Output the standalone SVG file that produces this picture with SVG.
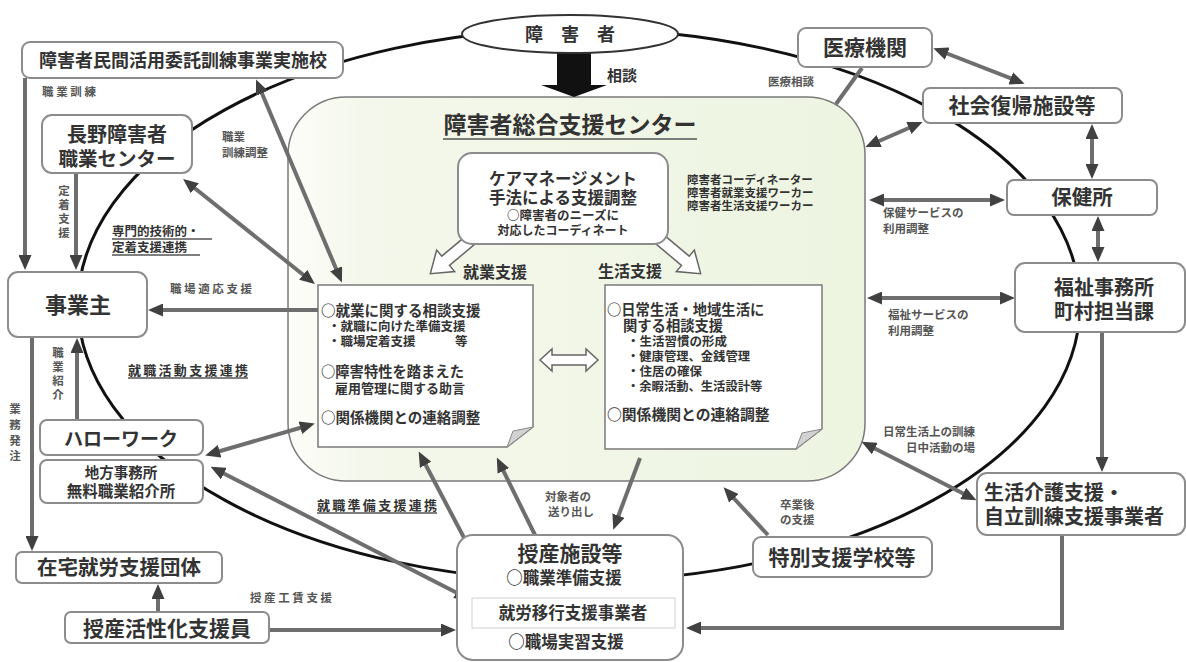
<svg xmlns="http://www.w3.org/2000/svg" width="1186" height="662" viewBox="0 0 1186 662">
<defs>
<style>
text{font-family:"Noto Sans CJK JP","Noto Sans CJK SC",sans-serif;font-weight:700;fill:#333}
.m{text-anchor:middle}
.box{fill:#fff;stroke:#8c8c8c;stroke-width:2}
.s{font-size:11.5px;fill:#555}
.c{fill:none;stroke:#6e6e6e;stroke-width:4}
.e{marker-end:url(#ah)}
.b{marker-start:url(#ah);marker-end:url(#ah)}
.ul{stroke:#555;stroke-width:1.3}
.doc{fill:#fff;stroke:#7a7a7a;stroke-width:1.5}
.fold{fill:#d2d2d2;stroke:#888;stroke-width:1}
.hol{fill:#fff;stroke:#666;stroke-width:1.5}
</style>
<marker id="ah" markerUnits="userSpaceOnUse" markerWidth="15" markerHeight="13" refX="10" refY="6.5" orient="auto-start-reverse" viewBox="0 0 15 13"><path d="M0,0 L15,6.5 L0,13 Z" fill="#404040"/></marker>
<linearGradient id="gf" x1="0" y1="0" x2="1" y2="0"><stop offset="0" stop-color="#fdfdf9"/><stop offset="0.12" stop-color="#f4f8ec"/><stop offset="1" stop-color="#edf4e0"/></linearGradient>
</defs>
<rect width="1186" height="662" fill="#fff"/>
<ellipse id="ring" cx="579" cy="305" rx="501" ry="276" fill="none" stroke="#111" stroke-width="3"/>

<g id="center">
<rect x="288" y="97" width="577" height="384" rx="58" fill="url(#gf)" stroke="#7a7a7a" stroke-width="1.5"/>
<text class="m" x="570" y="133" font-size="23">障害者総合支援センター</text>
<line class="ul" x1="443" y1="139" x2="697" y2="139" stroke-width="1.6"/>
<polygon class="hol" points="0,-6 37,-6 37,-14 57,0 37,14 37,6 0,6" transform="translate(474,237) rotate(140)"/>
<polygon class="hol" points="0,-6 37,-6 37,-14 57,0 37,14 37,6 0,6" transform="translate(657,237) rotate(40)"/>
<g id="caremgmt">
<rect x="458" y="153" width="210" height="91" rx="14" fill="#fff" stroke="#8c8c8c" stroke-width="2"/>
<text class="m" x="563" y="185" font-size="16.5">ケアマネージメント</text>
<text class="m" x="563" y="204" font-size="16.5">手法による支援調整</text>
<text class="m" x="563" y="220" font-size="12.5">○障害者のニーズに</text>
<text class="m" x="563" y="235" font-size="12">対応したコーディネート</text>
</g>
<text x="687" y="184" font-size="11.5">障害者コーディネーター</text>
<text x="687" y="197" font-size="11.5">障害者就業支援ワーカー</text>
<text x="687" y="210" font-size="11.5">障害者生活支援ワーカー</text>
<text x="463" y="278" font-size="16">就業支援</text>
<text x="598" y="277" font-size="16">生活支援</text>
<g id="doc-shugyo">
<path class="doc" d="M318,285 H533 V427 L507,447 H318 Z"/>
<path class="fold" d="M533,427 L507,447 L513,431 Z"/>
<text x="321" y="316" font-size="14.5">○就業に関する相談支援</text>
<text x="328" y="331" font-size="12.5">・就職に向けた準備支援</text>
<text x="328" y="346" font-size="12.5">・職場定着支援</text>
<text x="455" y="346" font-size="12.5">等</text>
<text x="321" y="377" font-size="14.3">○障害特性を踏まえた</text>
<text x="335" y="393" font-size="13">雇用管理に関する助言</text>
<text x="321" y="423" font-size="14.5">○関係機関との連絡調整</text>
</g>
<polygon class="hol" points="540,360 552,349 552,355 586,355 586,349 598,360 586,371 586,365 552,365 552,371"/>
<g id="doc-seikatsu">
<path class="doc" d="M605,285 H822 V429 L796,449 H605 Z"/>
<path class="fold" d="M822,429 L796,449 L802,433 Z"/>
<text x="607" y="315" font-size="14.3">○日常生活・地域生活に</text>
<text x="623" y="331" font-size="14.3">関する相談支援</text>
<text x="627" y="345.5" font-size="12.5">・生活習慣の形成</text>
<text x="627" y="360.5" font-size="12.3">・健康管理、金銭管理</text>
<text x="627" y="375.5" font-size="12.5">・住居の確保</text>
<text x="627" y="390.5" font-size="12.3">・余暇活動、生活設計等</text>
<text x="607" y="420" font-size="14.8">○関係機関との連絡調整</text>
</g>
</g>

<g id="connectors">
<polygon points="557,53 591,53 591,85 607,85 574,97 541,85 557,85" fill="#111"/>
<path class="c e" d="M25,78 V265"/>
<path class="c e" d="M76,173 V265"/>
<path class="c e" d="M77,420 V343"/>
<path class="c e" d="M32,337 V546"/>
<path class="c e" d="M158,612 V589"/>
<path class="c e" d="M269,630 H451"/>
<path class="c b" d="M187,182 L311,281"/>
<path class="c b" d="M258,84 L340,278"/>
<path class="c e" d="M318,310 H153"/>
<path class="c b" d="M210,454 L310,425"/>
<path class="c b" d="M215,469 L465,597"/>
<path class="c b" d="M421,456 L491,589"/>
<path class="c e" d="M535,535 L499,462"/>
<path class="c e" d="M640,458 L615,525"/>
<path class="c e" d="M768,535 L727,491"/>
<path class="c b" d="M866,444 L972,498"/>
<path class="c e" d="M1102,332 V467"/>
<path class="c e" d="M1062,535 V628 H691"/>
<path class="c b" d="M872,298 H1010"/>
<path class="c b" d="M874,200 H1000"/>
<path class="c b" d="M1092,129 V174"/>
<path class="c b" d="M1098,221 V257"/>
<path class="c b" d="M938,50 L1020,82"/>
<path class="c b" d="M918,124 L870,145"/>
<path class="c" d="M862,68 L836,104"/>
</g>

<g id="labels">
<text x="607" y="81" font-size="15" fill="#444">相談</text>
<text class="s" x="768" y="86" font-size="10.5">医療相談</text>
<text class="s" x="42" y="96" textLength="54">職業訓練</text>
<text class="s" x="222" y="141" font-size="11.5">職業</text>
<text class="s" x="222" y="157" font-size="11.5">訓練調整</text>
<text class="s m" font-size="11.5"><tspan x="64" y="195">定</tspan><tspan x="64" y="209">着</tspan><tspan x="64" y="223">支</tspan><tspan x="64" y="237">援</tspan></text>
<text x="112" y="236" font-size="12.5" fill="#444">専門的技術的・</text>
<line class="ul" x1="112" y1="239" x2="212" y2="239"/>
<text x="112" y="252" font-size="12.5" fill="#444">定着支援連携</text>
<line class="ul" x1="112" y1="255" x2="200" y2="255"/>
<text class="s" x="170" y="293" font-size="12.5" textLength="82">職場適応支援</text>
<text class="s m" font-size="11.5"><tspan x="58" y="357">職</tspan><tspan x="58" y="371">業</tspan><tspan x="58" y="385">紹</tspan><tspan x="58" y="399">介</tspan></text>
<text x="128" y="375" font-size="13" fill="#444" textLength="120">就職活動支援連携</text>
<line class="ul" x1="128" y1="378" x2="248" y2="378"/>
<text class="s m" font-size="11.5"><tspan x="15" y="413">業</tspan><tspan x="15" y="429">務</tspan><tspan x="15" y="445">発</tspan><tspan x="15" y="460">注</tspan></text>
<text x="317" y="510" font-size="13" fill="#444" textLength="120">就職準備支援連携</text>
<line class="ul" x1="317" y1="513" x2="437" y2="513"/>
<text class="s" x="250" y="602" font-size="12" textLength="82">授産工賃支援</text>
<text class="s" x="545" y="501" font-size="12">対象者の</text>
<text class="s" x="548" y="516" font-size="12">送り出し</text>
<text class="s" x="780" y="509" font-size="11.5">卒業後</text>
<text class="s" x="780" y="524" font-size="11.5">の支援</text>
<text class="s" x="975" y="436" font-size="12.5" text-anchor="end">日常生活上の訓練</text>
<text class="s" x="975" y="452" font-size="12.5" text-anchor="end">日中活動の場</text>
<text class="s" x="888" y="319" font-size="12">福祉サービスの</text>
<text class="s" x="888" y="335" font-size="12">利用調整</text>
<text class="s" x="883" y="217" font-size="12">保健サービスの</text>
<text class="s" x="883" y="233" font-size="12">利用調整</text>
</g>

<g id="n-shogaisha">
<ellipse cx="570" cy="34" rx="108" ry="19" fill="#fff" stroke="#333" stroke-width="2"/>
<text class="m" x="570" y="41" font-size="18">障　害　者</text>
</g>
<g id="n-minkan">
<rect class="box" x="22" y="42" width="321" height="36" rx="8"/>
<text class="m" x="183" y="67" font-size="18">障害者民間活用委託訓練事業実施校</text>
</g>
<g id="n-nagano">
<rect class="box" x="42" y="115" width="150" height="58" rx="10"/>
<text class="m" x="117" y="142" font-size="20">長野障害者</text>
<text class="m" x="117" y="166" font-size="19.5">職業センター</text>
</g>
<g id="n-jigyonushi">
<rect class="box" x="8" y="272" width="139" height="65" rx="10"/>
<text class="m" x="78" y="313" font-size="22">事業主</text>
</g>
<g id="n-hellowork">
<rect class="box" x="40" y="420" width="163" height="35" rx="7"/>
<text class="m" x="121" y="446" font-size="19">ハローワーク</text>
</g>
<g id="n-chiho">
<rect class="box" x="40" y="460" width="163" height="43" rx="7"/>
<text class="m" x="121" y="478" font-size="14.5">地方事務所</text>
<text class="m" x="121" y="497" font-size="15.5">無料職業紹介所</text>
</g>
<g id="n-zaitaku">
<rect class="box" x="16" y="552" width="206" height="31" rx="6"/>
<text class="m" x="119" y="575" font-size="20.5">在宅就労支援団体</text>
</g>
<g id="n-kasseika">
<rect class="box" x="65" y="612" width="204" height="31" rx="6"/>
<text class="m" x="167" y="636" font-size="21">授産活性化支援員</text>
</g>
<g id="n-jusan">
<rect class="box" x="457" y="535" width="226" height="125" rx="16"/>
<text class="m" x="570" y="561" font-size="21">授産施設等</text>
<text class="m" x="564" y="584" font-size="16.5">○職業準備支援</text>
<rect x="472" y="598" width="203" height="30" fill="#fff" stroke="#cfcfcf" stroke-width="1"/>
<text class="m" x="573" y="619" font-size="16.5">就労移行支援事業者</text>
<text class="m" x="566" y="648" font-size="16.5">○職場実習支援</text>
</g>
<g id="n-tokubetsu">
<rect class="box" x="753" y="537" width="179" height="40" rx="8"/>
<text class="m" x="842" y="565" font-size="21">特別支援学校等</text>
</g>
<g id="n-seikatsukaigo">
<rect class="box" x="977" y="473" width="208" height="62" rx="10"/>
<text x="984" y="500" font-size="20">生活介護支援・</text>
<text x="984" y="524" font-size="20">自立訓練支援事業者</text>
</g>
<g id="n-iryo">
<rect class="box" x="798" y="28" width="134" height="39" rx="8"/>
<text class="m" x="865" y="55" font-size="21">医療機関</text>
</g>
<g id="n-shakai">
<rect class="box" x="923" y="88" width="199" height="35" rx="7"/>
<text class="m" x="1022" y="113" font-size="21">社会復帰施設等</text>
</g>
<g id="n-hokenjo">
<rect class="box" x="1007" y="180" width="150" height="35" rx="7"/>
<text class="m" x="1082" y="205" font-size="20.5">保健所</text>
</g>
<g id="n-fukushi">
<rect class="box" x="1015" y="263" width="170" height="69" rx="10"/>
<text class="m" x="1104" y="295" font-size="20">福祉事務所</text>
<text class="m" x="1104" y="319" font-size="20">町村担当課</text>
</g>
</svg>
